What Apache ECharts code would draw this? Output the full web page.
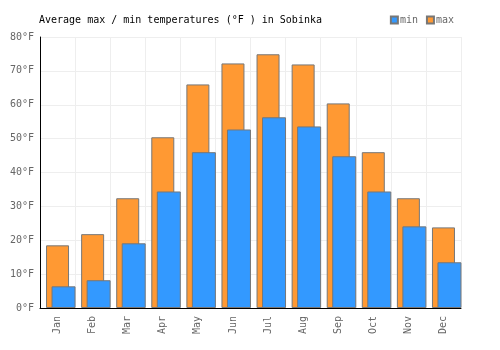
<!DOCTYPE html>
<html>
<head>
<meta charset="utf-8">
<script src="https://cdn.jsdelivr.net/npm/echarts@6/dist/echarts.min.js"></script>
<style>
  html, body { margin: 0; padding: 0; background: #fff; }
  #chart { width: 500px; height: 350px; }
</style>
</head>
<body>
<div id="chart"></div>
<script>
const months = ['Jan', 'Feb', 'Mar', 'Apr', 'May', 'Jun', 'Jul', 'Aug', 'Sep', 'Oct', 'Nov', 'Dec'];
const maxTemps = [18.5, 21.8, 32.4, 50.4, 66.0, 72.2, 74.9, 71.9, 60.4, 46.0, 32.4, 23.8];
const minTemps = [6.4, 8.2, 19.1, 34.4, 46.0, 52.7, 56.3, 53.6, 44.8, 34.4, 24.1, 13.5];

const font = 'DejaVu Sans Mono';
const chart = echarts.init(document.getElementById('chart'));

const option = {
  animation: false,
  backgroundColor: '#fff',
  textStyle: { fontFamily: font },
  title: {
    text: 'Average max / min temperatures (°F ) in Sobinka',
    left: 34,
    top: 10,
    textStyle: { fontFamily: font, fontSize: 10, fontWeight: 'normal', color: '#000' }
  },
  legend: {
    data: ['min', 'max'],
    right: 41,
    top: 10,
    itemWidth: 7,
    itemHeight: 7,
    itemGap: 8,
    icon: 'rect',
    textStyle: { fontFamily: font, fontSize: 10, color: '#666', padding: [0, 0, 0, -3] }
  },
  grid: [
    { left: 40, right: 39, top: 37, bottom: 42 },
    { left: 46, right: 33, top: 37, bottom: 42 }
  ],
  xAxis: [
    {
      type: 'category',
      gridIndex: 0,
      data: months,
      axisLine: { lineStyle: { color: '#000', width: 1 } },
      axisTick: { show: false },
      axisLabel: { rotate: 90, color: '#666', fontFamily: font, fontSize: 10, margin: 8 },
      splitLine: { show: true, lineStyle: { color: '#eee' } }
    },
    {
      type: 'category',
      gridIndex: 1,
      data: months,
      show: false
    }
  ],
  yAxis: [
    {
      type: 'value',
      gridIndex: 0,
      min: 0,
      max: 80,
      interval: 10,
      axisLine: { show: true, lineStyle: { color: '#000', width: 1 } },
      axisTick: { show: false },
      axisLabel: { formatter: '{value}°F', color: '#666', fontFamily: font, fontSize: 10, margin: 6 },
      splitLine: { lineStyle: { color: '#eee' } }
    },
    {
      type: 'value',
      gridIndex: 1,
      min: 0,
      max: 80,
      interval: 10,
      show: false,
      splitLine: { show: false }
    }
  ],
  series: [
    {
      name: 'max',
      type: 'bar',
      xAxisIndex: 0,
      yAxisIndex: 0,
      data: maxTemps,
      barWidth: 23,
      itemStyle: { color: '#ff9933', borderColor: '#777', borderWidth: 1 }
    },
    {
      name: 'min',
      type: 'bar',
      xAxisIndex: 1,
      yAxisIndex: 1,
      data: minTemps,
      barWidth: 24,
      itemStyle: { color: '#3399ff', borderColor: '#777', borderWidth: 1 }
    }
  ]
};

chart.setOption(option);
</script>
</body>
</html>
